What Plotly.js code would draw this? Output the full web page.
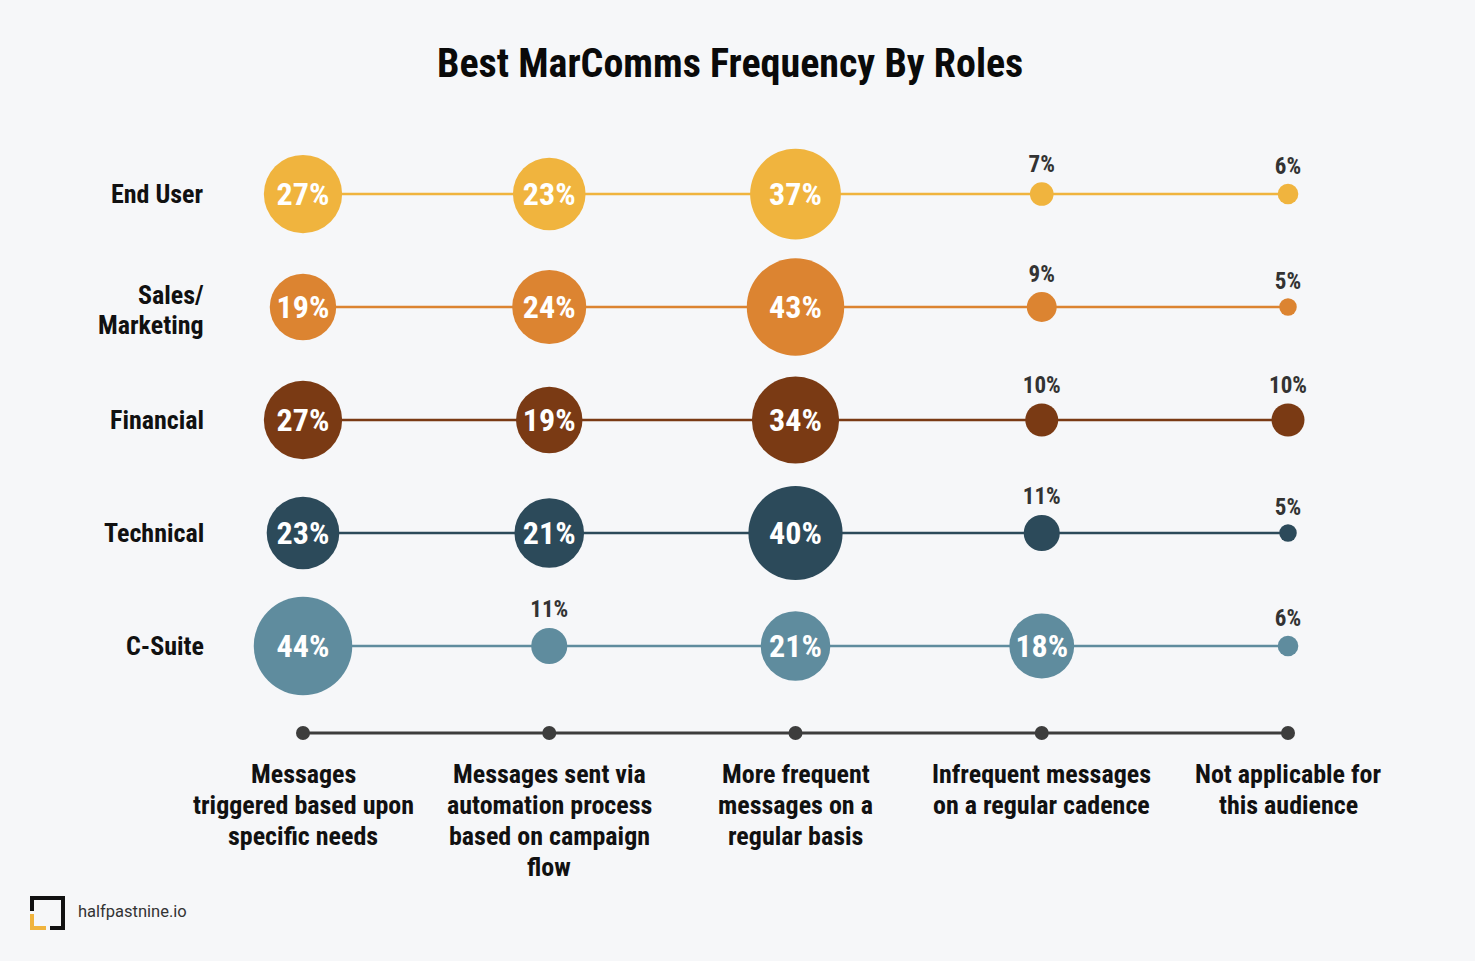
<!DOCTYPE html>
<html>
<head>
<meta charset="utf-8">
<script src="https://cdn.plot.ly/plotly-3.0.1.min.js"></script>
<style>
html,body{margin:0;padding:0;background:#F6F7F9;}
#chart{width:1475px;height:961px;}
</style>
</head>
<body>
<div id="chart"></div>
<script>
// ---- data ----
const roles = ["End User", "Sales/<br>Marketing", "Financial", "Technical", "C-Suite"];
const categories = [
  "Messages<br>triggered based upon<br>specific needs",
  "Messages sent via<br>automation process<br>based on campaign<br>flow",
  "More frequent<br>messages on a<br>regular basis",
  "Infrequent messages<br>on a regular cadence",
  "Not applicable for<br>this audience"
];
const endUser   = [27, 23, 37, 7, 6];
const sales     = [19, 24, 43, 9, 5];
const financial = [27, 19, 34, 10, 10];
const technical = [23, 21, 40, 11, 5];
const cSuite    = [44, 11, 21, 18, 6];
const series = [endUser, sales, financial, technical, cSuite];
const colors = ["#F0B43E", "#DC8431", "#7A3A14", "#2C4A5A", "#5F8C9E"];

// ---- styling ----
const COND = "Roboto Condensed, Liberation Sans Narrow, DejaVu Sans Condensed, Roboto, sans-serif";
const W = 1475, H = 961;
const M = {l: 60, r: 60, t: 100, b: 61};
const XR = [-0.9868, 4.5157];
const YR = [6.248, -0.832];
const AXIS_ROW = 4.77;
const INSIDE_MIN = 15;
const INSIDE_DY = 0.03;
const ROLE_X = -0.394;
const ROLE_LH = 0.2655;
const CAT_Y0 = 5.133;
const CAT_LH = 0.2743;

function diam(v) { return v >= INSIDE_MIN ? 5 + 14.1 * Math.sqrt(v) : 3.1 * v + 2; }

const xs = categories.map((c, i) => i);
const traces = [];
series.forEach((vals, r) => {
  traces.push({
    type: "scatter",
    x: xs,
    y: vals.map(() => r),
    mode: "lines+markers+text",
    line: {color: colors[r], width: 2.5},
    marker: {color: colors[r], size: vals.map(diam), line: {width: 0}, opacity: 1},
    text: vals.map(v => v >= INSIDE_MIN ? "" : v + "%"),
    textposition: "top center",
    textfont: {family: COND, weight: 700, color: "#333333", size: 23},
    hoverinfo: "skip",
    cliponaxis: false,
    showlegend: false
  });
  const inX = [], inT = [];
  vals.forEach((v, i) => { if (v >= INSIDE_MIN) { inX.push(i); inT.push(v + "%"); } });
  traces.push({
    type: "scatter",
    x: inX,
    y: inX.map(() => r + INSIDE_DY),
    mode: "text",
    text: inT,
    textposition: "middle center",
    textfont: {family: COND, weight: 700, color: "#FFFFFF", size: 32},
    hoverinfo: "skip",
    cliponaxis: false,
    showlegend: false
  });
});
traces.push({
  type: "scatter",
  x: xs,
  y: xs.map(() => AXIS_ROW),
  mode: "lines+markers",
  line: {color: "#3d3d3d", width: 3},
  marker: {color: "#3d3d3d", size: 14},
  hoverinfo: "skip",
  cliponaxis: false,
  showlegend: false
});

const annotations = [];
const labelFont = {family: COND, weight: 700, size: 26, color: "#111111"};
roles.forEach((r, i) => {
  const lines = r.split("<br>");
  const n = lines.length;
  lines.forEach((ln, k) => {
    annotations.push({
      x: ROLE_X, y: i + (k - (n - 1) / 2) * ROLE_LH + (n > 1 ? 0.025 : 0), xref: "x", yref: "y",
      text: ln, showarrow: false, xanchor: "right", yanchor: "middle", align: "right",
      font: labelFont
    });
  });
});
categories.forEach((c, i) => {
  c.split("<br>").forEach((ln, k) => {
    annotations.push({
      x: i, y: CAT_Y0 + k * CAT_LH, xref: "x", yref: "y",
      text: ln, showarrow: false, xanchor: "center", yanchor: "middle", align: "center",
      font: labelFont
    });
  });
});
const pw = W - M.l - M.r, ph = H - M.t - M.b;
const px = v => (v - M.l) / pw;
const py = v => 1 - (v - M.t) / ph;
annotations.push({
  x: px(76), y: py(912), xref: "paper", yref: "paper",
  text: "halfpastnine.io", showarrow: false, xanchor: "left", yanchor: "middle",
  font: {family: "Roboto, sans-serif", size: 16.5, color: "#333333"}
});

function rect(x0, y0, x1, y1, col) {
  return {type: "rect", xref: "paper", yref: "paper",
    x0: px(x0), x1: px(x1), y0: py(y1), y1: py(y0),
    fillcolor: col, line: {width: 0}, layer: "above"};
}
const shapes = [
  rect(30, 896, 65, 900, "#111111"),
  rect(61, 896, 65, 930, "#111111"),
  rect(50, 926, 65, 930, "#111111"),
  rect(30, 896, 34, 911, "#111111"),
  rect(30, 914, 34, 930, "#F0B43E"),
  rect(30, 926, 46, 930, "#F0B43E")
];

const layout = {
  width: W, height: H,
  paper_bgcolor: "#F6F7F9",
  plot_bgcolor: "#F6F7F9",
  margin: M,
  title: {
    text: "Best MarComms Frequency By Roles",
    x: 0.495, xanchor: "center", y: 0.934, yanchor: "middle",
    font: {family: COND, weight: 700, size: 40, color: "#0a0a0a"}
  },
  xaxis: {range: XR, visible: false, fixedrange: true},
  yaxis: {range: YR, visible: false, fixedrange: true},
  annotations: annotations,
  shapes: shapes,
  showlegend: false
};

Plotly.newPlot("chart", traces, layout, {displayModeBar: false, staticPlot: true});
</script>
</body>
</html>
